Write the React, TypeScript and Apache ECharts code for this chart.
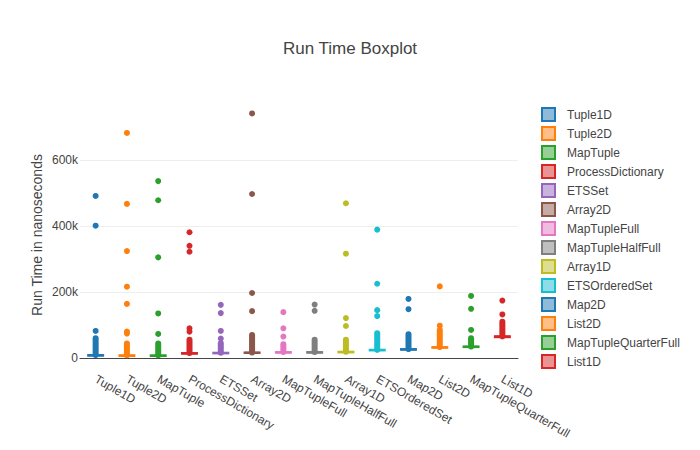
import React, { useEffect, useRef } from "react";
import * as echarts from "echarts";

const categories = [
  "Tuple1D", "Tuple2D", "MapTuple", "ProcessDictionary", "ETSSet", "Array2D", "MapTupleFull",
  "MapTupleHalfFull", "Array1D", "ETSOrderedSet", "Map2D", "List2D", "MapTupleQuarterFull", "List1D",
];

// box statistics in nanoseconds
const whiskerLow = [2000, 1000, 1000, 8000, 9000, 10000, 11000, 11000, 12000, 17000, 19000, 25000, 27000, 57000];
const boxQ1 = [7000, 6000, 6000, 13000, 14000, 15000, 16000, 16000, 17000, 23000, 25000, 31000, 33000, 63000];
const boxMedian = [8000, 7000, 7000, 14000, 15000, 16000, 17000, 17000, 18000, 24000, 26000, 32000, 34000, 64500];
const boxQ3 = [9000, 8000, 8000, 15000, 16000, 17000, 18000, 18000, 19000, 25000, 27000, 33000, 35000, 66000];
// top of the dense run of outlier points just above the box
const denseTop = [60000, 44000, 44000, 55000, 45000, 70000, 42000, 55000, 55000, 75000, 72000, 85000, 60000, 110000];

// isolated outliers
const outliers = [
  [491000, 401000, 82000],
  [682000, 467000, 324000, 216000, 164000, 80000, 74000],
  [536000, 478000, 305000, 135000, 73000],
  [381000, 340000, 322000, 90000, 80000],
  [161000, 136000, 82000, 59000],
  [741000, 497000, 197000, 142000],
  [139000, 90000, 65000],
  [162000, 143000],
  [469000, 316000, 121000, 97000],
  [389000, 225000, 145000, 127000],
  [179000, 148000],
  [217000, 98000],
  [188000, 149000, 85000],
  [174000, 132000],
];

const yTicks = [0, 200000, 400000, 600000];

const palette = [
  "#1f77b4", "#ff7f0e", "#2ca02c", "#d62728", "#9467bd",
  "#8c564b", "#e377c2", "#7f7f7f", "#bcbd22", "#17becf",
];

const FONT = "'Liberation Sans', Arial, sans-serif";

function fade(hex: string, a = 0.5) {
  const r = parseInt(hex.slice(1, 3), 16);
  const g = parseInt(hex.slice(3, 5), 16);
  const b = parseInt(hex.slice(5, 7), 16);
  return `rgba(${r},${g},${b},${a})`;
}

export default function App() {
  const ref = useRef<HTMLDivElement>(null);
  useEffect(() => {
    document.body.style.margin = "0";
    if (!ref.current) return;
    const chart = echarts.init(ref.current, null, { renderer: "svg" });
    const colorOf = (i: number) => palette[i % palette.length];
    const boxData = categories.map((_, i) => [i, whiskerLow[i], boxQ1[i], boxMedian[i], boxQ3[i], denseTop[i]]);

    const option: any = {
      animation: false,
      textStyle: { fontFamily: FONT },
      title: {
        text: "Run Time Boxplot",
        left: "center",
        top: 35,
        textStyle: { fontSize: 17, fontWeight: "normal", color: "#444", fontFamily: FONT },
      },
      grid: { left: 80, right: 182, top: 94, bottom: 92, containLabel: false },
      legend: {
        orient: "vertical",
        left: 541,
        top: 107,
        padding: 0,
        itemWidth: 13,
        itemHeight: 13,
        itemGap: 4,
        textStyle: { fontSize: 12, color: "#444", fontFamily: FONT, padding: [0, 0, 0, 7] },
        data: categories.map((n, i) => ({
          name: n,
          icon: "rect",
          itemStyle: { color: fade(colorOf(i)), borderColor: colorOf(i), borderWidth: 2 },
        })),
      },
      xAxis: {
        type: "category",
        data: categories,
        axisLine: { show: true, lineStyle: { color: "#444", width: 1 } },
        axisTick: { show: false },
        axisLabel: { rotate: -30, color: "#444", fontSize: 12, margin: 20, interval: 0, fontFamily: FONT },
        splitLine: { show: false },
      },
      yAxis: {
        type: "value",
        min: 0,
        max: 800000,
        interval: 200000,
        axisLine: { show: false },
        axisTick: { show: false },
        splitLine: { show: true, showMinLine: false, showMaxLine: false, lineStyle: { color: "#eee", width: 1 } },
        axisLabel: {
          color: "#444",
          fontSize: 12,
          margin: 2,
          showMaxLabel: false,
          fontFamily: FONT,
          formatter: (v: number) => (yTicks.includes(v) ? (v === 0 ? "0" : v / 1000 + "k") : ""),
        },
      },
      graphic: [
        {
          type: "text",
          x: 37,
          y: 235,
          rotation: Math.PI / 2,
          style: {
            text: "Run Time in nanoseconds",
            fontSize: 14,
            fill: "#444",
            fontFamily: FONT,
            textAlign: "center",
            textVerticalAlign: "middle",
          },
        },
      ],
      series: [
        {
          type: "custom",
          name: "boxes",
          data: boxData,
          encode: { x: 0, y: [1, 2, 3, 4, 5] },
          clip: false,
          z: 2,
          renderItem: (params: any, api: any) => {
            const i = api.value(0);
            const c = colorOf(i);
            const low = api.coord([i, api.value(1)]);
            const q1 = api.coord([i, api.value(2)]);
            const med = api.coord([i, api.value(3)]);
            const q3 = api.coord([i, api.value(4)]);
            const top = api.coord([i, api.value(5)]);
            const x = q1[0];
            const hw = 7.5;
            return {
              type: "group",
              children: [
                { type: "line", shape: { x1: x, y1: q3[1], x2: x, y2: top[1] }, style: { stroke: c, lineWidth: 6, lineCap: "round" } },
                { type: "line", shape: { x1: x, y1: low[1], x2: x, y2: q1[1] }, style: { stroke: c, lineWidth: 2 } },
                { type: "rect", shape: { x: x - hw, y: q3[1], width: 2 * hw, height: q1[1] - q3[1] }, style: { fill: fade(c), stroke: c, lineWidth: 2 } },
                { type: "line", shape: { x1: x - hw, y1: med[1], x2: x + hw, y2: med[1] }, style: { stroke: c, lineWidth: 2 } },
              ],
            };
          },
        },
        ...categories.map((n, i) => ({
          type: "scatter",
          name: n,
          data: outliers[i].map((v) => [i, v]),
          symbol: "circle",
          symbolSize: 6,
          itemStyle: { color: colorOf(i), opacity: 1 },
          z: 3,
        })),
      ],
    };
    chart.setOption(option);
    return () => chart.dispose();
  }, []);
  return <div ref={ref} style={{ width: 700, height: 450 }} />;
}
